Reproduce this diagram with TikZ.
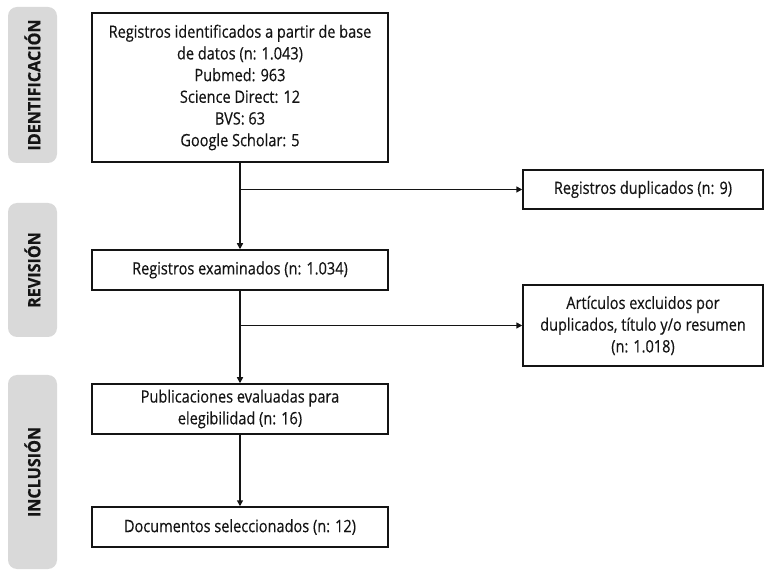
\documentclass[tikz,border=0pt]{standalone}
\usepackage{fontspec}
\setmainfont[FakeStretch=0.855,FakeBold=0.35]{Open Sans}
\newfontfamily\sidefont[FakeStretch=0.95,FakeBold=0.6]{Open Sans}
\usetikzlibrary{arrows.meta}
\definecolor{sidegray}{HTML}{D9D9D9}
\definecolor{inkc}{HTML}{141414}
\tikzset{
  box/.style={draw=inkc, line width=1.5pt, fill=white, align=center, inner sep=2pt,
    font=\fontsize{17}{21.7}\selectfont, text=inkc},
  side/.style={fill=sidegray, rounded corners=9pt, minimum width=49pt, inner sep=0pt},
  sidetext/.style={rotate=90, font=\sidefont\bfseries\fontsize{17}{20}\selectfont, text=inkc},
  conn/.style={draw=inkc, line width=1.6pt},
  arr/.style={conn, -{Triangle[length=6pt,width=6pt]}}
}
\begin{document}
\begin{tikzpicture}[x=1pt,y=-1pt]
\useasboundingbox (0,0) rectangle (764,572);
% side labels
\node[side, minimum height=156pt] (sid) at (32.5,85) {};
\node[sidetext] (tid) at (sid.center) {IDENTIFICACIÓN};
\node[side, minimum height=134pt] (srev) at (32.5,270) {};
\node[sidetext] (trev) at (srev.center) {REVISIÓN};
\node[side, minimum height=194pt] (sinc) at (32.5,472) {};
\node[sidetext] (tinc) at (sinc.center) {INCLUSIÓN};
% boxes
\node[box, minimum width=296pt, minimum height=149pt] (b1) at (240,87.5)
  {Registros identificados a partir de base\\de datos (n: 1.043)\\Pubmed: 963\\Science Direct: 12\\BVS: 63\\Google Scholar: 5};
\node[box, minimum width=296pt, minimum height=40pt] (b2) at (240,270) {Registros examinados (n: 1.034)};
\node[box, minimum width=296pt, minimum height=50pt] (b3) at (240,409) {Publicaciones evaluadas para\\elegibilidad (n: 16)};
\node[box, minimum width=296pt, minimum height=40pt] (b4) at (240,527) {Documentos seleccionados (n: 12)};
\node[box, minimum width=240pt, minimum height=39pt] (dup) at (643,189.5) {Registros duplicados (n: 9)};
\node[box, minimum width=240pt, minimum height=81pt] (exc) at (643,325.5) {Artículos excluidos por\\duplicados, título y/o resumen\\(n: 1.018)};
% connectors
\coordinate (j1) at (b1.south |- dup.west);
\coordinate (j2) at (b2.south |- exc.west);
\draw[arr] (b1.south) -- (b2.north);
\draw[arr] (j1) -- (dup.west);
\draw[arr] (b2.south) -- (b3.north);
\draw[arr] (j2) -- (exc.west);
\draw[arr] (b3.south) -- (b4.north);
\end{tikzpicture}
\end{document}
